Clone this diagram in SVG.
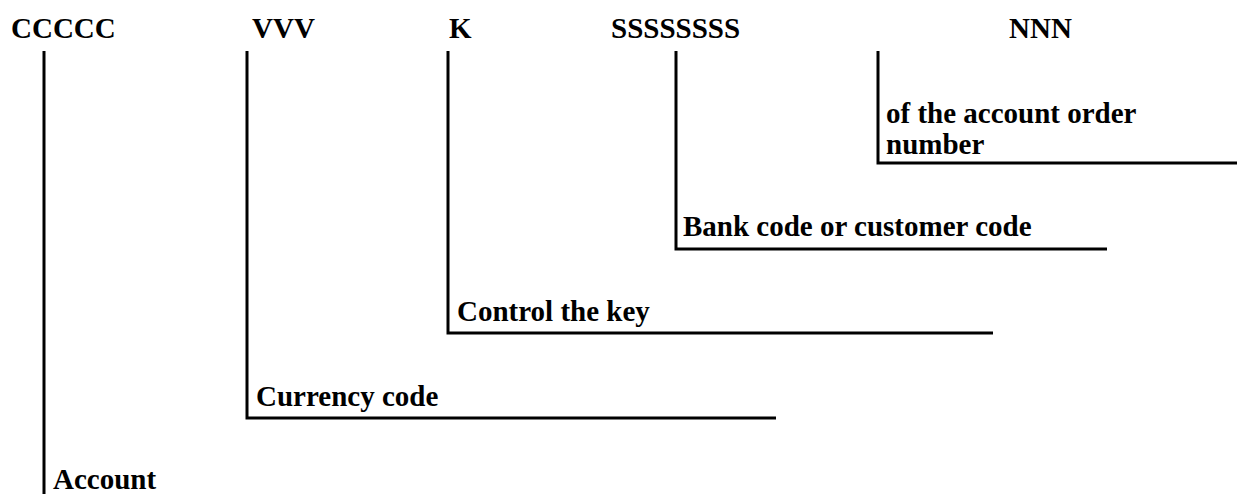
<svg xmlns="http://www.w3.org/2000/svg" width="1237" height="497" viewBox="0 0 1237 497">
  <style>
    text { font-family: "Liberation Serif", "Times New Roman", serif; font-weight: bold; font-size: 29px; fill: #000; }
    .bracket { fill: none; stroke: #000; stroke-width: 3; stroke-linecap: butt; stroke-linejoin: miter; }
  </style>
  <rect width="1237" height="497" fill="#fff"/>

  <!-- field codes across the top -->
  <g id="field-account"><text x="11" y="38">CCCCC</text></g>
  <g id="field-currency"><text x="252" y="38">VVV</text></g>
  <g id="field-key"><text x="449" y="38">K</text></g>
  <g id="field-bank"><text x="611" y="38">SSSSSSSS</text></g>
  <g id="field-number"><text x="1009" y="38">NNN</text></g>

  <!-- bracket lines from each field down to its description -->
  <g id="connectors">
    <path class="bracket" d="M44,51 V494"/>
    <path class="bracket" d="M247,51 V418 H776"/>
    <path class="bracket" d="M448,51 V333 H993"/>
    <path class="bracket" d="M676,51 V249 H1107"/>
    <path class="bracket" d="M878,51 V163 H1237"/>
  </g>

  <!-- descriptions -->
  <g id="desc-number">
    <text x="886" y="123">of the account order</text>
    <text x="886" y="154">number</text>
  </g>
  <g id="desc-bank"><text x="683" y="236">Bank code or customer code</text></g>
  <g id="desc-key"><text x="457" y="321">Control the key</text></g>
  <g id="desc-currency"><text x="256" y="406">Currency code</text></g>
  <g id="desc-account"><text x="53" y="489">Account</text></g>
</svg>
